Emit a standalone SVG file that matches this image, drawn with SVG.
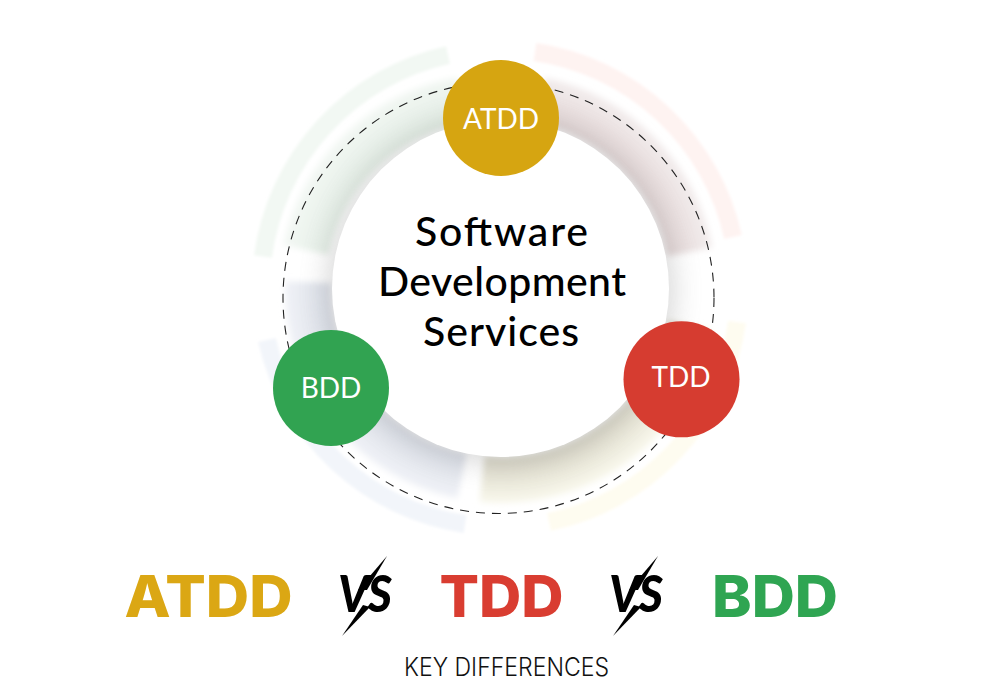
<svg xmlns="http://www.w3.org/2000/svg" width="1000" height="700" viewBox="0 0 1000 700">
<style>
.seg{fill:none;stroke-width:18;filter:url(#soft)}
.band{fill:none;stroke-width:46;filter:url(#soft2)}
.label{font-family:"Lato","Liberation Sans",sans-serif;fill:#fff;font-size:28px;text-anchor:middle}
.title{font-family:"Lato","Liberation Sans",sans-serif;fill:#000;font-size:41px;font-weight:500}
.big{font-family:"Inter","Liberation Sans",sans-serif;font-size:58px;font-weight:800}
.vs{font-family:"Lato","Liberation Sans",sans-serif;font-size:51px;font-weight:900;font-style:italic;fill:#000}
.key{font-family:"Inter","Lato",sans-serif;font-size:25px;font-weight:300;fill:#111}
</style>
<defs>
<filter id="soft" x="-20%" y="-20%" width="140%" height="140%"><feGaussianBlur stdDeviation="1.5"/></filter>
<filter id="soft2" x="-20%" y="-20%" width="140%" height="140%"><feGaussianBlur stdDeviation="3"/></filter>
<filter id="shadow" x="-30%" y="-30%" width="160%" height="160%"><feGaussianBlur stdDeviation="14"/></filter>
<radialGradient id="gG" gradientUnits="userSpaceOnUse" cx="500" cy="288" r="215"><stop offset="0.78" stop-color="#dfebe1"/><stop offset="1" stop-color="#f2f7f3"/></radialGradient>
<radialGradient id="gP" gradientUnits="userSpaceOnUse" cx="500" cy="288" r="215"><stop offset="0.78" stop-color="#e0d3d3"/><stop offset="1" stop-color="#f3eded"/></radialGradient>
<radialGradient id="gY" gradientUnits="userSpaceOnUse" cx="500" cy="288" r="215"><stop offset="0.78" stop-color="#d9d6c6"/><stop offset="1" stop-color="#f9f8ec"/></radialGradient>
<radialGradient id="gB" gradientUnits="userSpaceOnUse" cx="500" cy="288" r="215"><stop offset="0.78" stop-color="#d9dde6"/><stop offset="1" stop-color="#f0f2f7"/></radialGradient>
</defs>
<rect width="1000" height="700" fill="#fff"/>
<g id="outer-arcs">
<path class="seg" stroke="#f2f8f3" d="M263 256.500A239 239 0 0 1 448 55"/>
<path class="seg" stroke="#fef3f1" d="M535 52A239 239 0 0 1 733 237"/>
<path class="seg" stroke="#fefcf0" d="M737 322A239 239 0 0 1 549 522"/>
<path class="seg" stroke="#f2f5fa" d="M267 340A239 239 0 0 0 465 524"/>
</g>
<g id="inner-bands">
<path class="band" stroke="url(#gG)" d="M306 250A192 192 0 0 1 462 100"/>
<path class="band" stroke="url(#gP)" d="M540 100A192 192 0 0 1 690 252"/>
<path class="band" stroke="url(#gY)" d="M690 325A192 192 0 0 1 482 479"/>
<path class="band" stroke="url(#gB)" d="M308 282A192 192 0 0 0 462 476"/>
</g>
<circle cx="500.500" cy="290" r="174" fill="#888" opacity="0.32" filter="url(#shadow)"/>
<g id="connectors">
<circle cx="498.500" cy="298" r="215.500" fill="none" stroke="#222" stroke-width="1.100" stroke-dasharray="9 7"/>
</g>
<g id="center">
<circle cx="500.500" cy="288.500" r="168.500" fill="#fff"/>
<text class="title" x="415" y="246" textLength="173" lengthAdjust="spacing">Software</text>
<text class="title" x="378" y="296" textLength="248" lengthAdjust="spacing">Development</text>
<text class="title" x="423" y="346" textLength="156" lengthAdjust="spacing">Services</text>
</g>
<g id="atdd"><circle cx="501" cy="118" r="58" fill="#d6a511"/><text class="label" x="501" y="129">ATDD</text></g>
<g id="tdd"><circle cx="681.500" cy="379.300" r="58" fill="#d63c30"/><text class="label" x="681" y="387">TDD</text></g>
<g id="bdd"><circle cx="331" cy="388" r="58" fill="#31a351"/><text class="label" x="331" y="398">BDD</text></g>
<g id="heading">
<text class="big" x="124.500" y="617" fill="#dba714" textLength="168" lengthAdjust="spacingAndGlyphs">ATDD</text>
<text class="big" x="439.500" y="617" fill="#d93d31" textLength="124" lengthAdjust="spacingAndGlyphs">TDD</text>
<text class="big" x="712" y="617" fill="#2fa552" textLength="126" lengthAdjust="spacingAndGlyphs">BDD</text>
<g id="vs1">
<text class="vs" x="338" y="612" textLength="54" lengthAdjust="spacingAndGlyphs">VS</text>
<polygon points="387,556 367,590 358,590"/><polygon points="342,636 363,605 370,607"/>
</g>
<g id="vs2">
<text class="vs" x="609" y="612" textLength="54" lengthAdjust="spacingAndGlyphs">VS</text>
<polygon points="658,556 638,590 629,590"/><polygon points="613,636 634,605 641,607"/>
</g>
<text class="key" x="404" y="676" textLength="205" lengthAdjust="spacingAndGlyphs">KEY DIFFERENCES</text>
</g>
</svg>
